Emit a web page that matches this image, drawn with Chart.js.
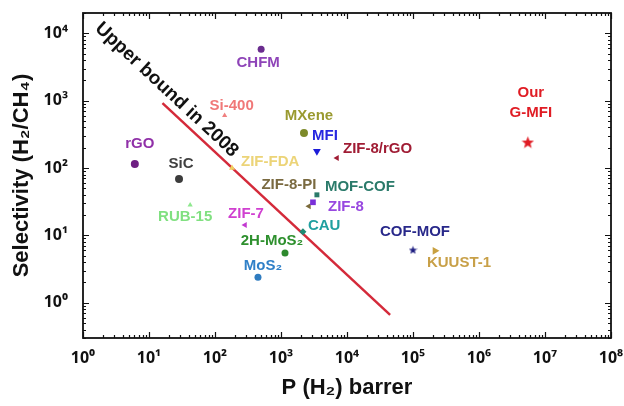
<!DOCTYPE html>
<html><head><meta charset="utf-8">
<script src="https://cdn.jsdelivr.net/npm/chart.js@4.4.1/dist/chart.umd.min.js"></script>
<style>html,body{margin:0;padding:0;background:#fff;}#wrap{width:624px;height:406px;}</style>
</head><body><div id="wrap"><canvas id="c" width="624" height="406"></canvas></div>
<script>
// ---- data ----
const materials = ['CHFM','Si-400','MXene','MFI','ZIF-8/rGO','rGO','SiC','ZIF-FDA','ZIF-8-PI','MOF-COF','ZIF-8','CAU','RUB-15','ZIF-7','2H-MoS₂','MoS₂','COF-MOF','KUUST-1',['Our','G-MFI']];
const permeability = [500, 140, 2230, 3500, 7050, 6.1, 28.5, 181, 2650, 3500, 3050, 2150, 42, 285, 1150, 448, 100000, 215000, 5500000];
const selectivity  = [5800, 600, 330, 178, 141, 115, 69, 100, 27, 40, 31, 11.3, 28.3, 14.3, 5.5, 2.4, 6.1, 5.9, 243];
const boundPermeability = [16, 45000];
const boundSelectivity  = [920, 0.66];
const boundLabel = 'Upper bound in 2008';
const xTickValues = [1, 10, 100, 1000, 10000, 100000, 1000000, 10000000, 100000000];
const xTickLabels = ['10⁰','10¹','10²','10³','10⁴','10⁵','10⁶','10⁷','10⁸'];
const yTickValues = [1, 10, 100, 1000, 10000];
const yTickLabels = ['10⁰','10¹','10²','10³','10⁴'];
const xTitle = 'P (H₂) barrer';
const yTitle = 'Selectivity (H₂/CH₄)';

// ---- styles ----
const markerColors = ['#6a2c8e','#f08080','#7d8a2a','#1c1cd8','#a01c34','#6e1e82','#3c3c3c','#f0d060','#7a6a3a','#2a7a6a','#7a30d8','#1f8a74','#8ee88e','#c23ad0','#2e8a2e','#2f7cc0','#1c1c80','#c8a040','#e01c24'];
const textColors   = ['#8e44b8','#f07878','#9a9a30','#2828e0','#a01c34','#9030a8','#404040','#ecd478','#7a6a40','#2a7a6a','#9848e0','#20a0a0','#80e080','#d040d0','#2e902e','#3080c8','#28288a','#c8a048','#e01c24'];
const markerShapes = ['circle','triangle','circle','triangle','triangle','circle','circle','triangle','triangle','rect','rect','rectRot','triangle','triangle','circle','circle','star5','triangle','star5'];
const markerRotation = [0,0,0,180,270,0,0,0,270,0,0,0,0,270,0,0,0,90,0];
const markerRadius = [3.5,3,4,4.5,3.5,4,4,3.5,3.5,3.5,4,3.5,3,3.5,3.5,3.5,4.5,4.5,6.5];
const labelDx = [-3,7,5,8,6,5,2,9,-20,8,15,5,-5,1,-13,5,2,-8,3];
const labelDy = [14,-10,-17,-15,-9,-20,-15,-6,-21,-8,5,-6,12,-11,-12,-11,-18,12,-49];
const labelAlign = ['center','center','center','center','left','center','center','left','center','left','left','left','center','center','center','center','center','left','center'];
const boundLabelAnchor = {x: 18.5, y: 1450};

function starImage(color, size){
  const c = document.createElement('canvas'); c.width = size; c.height = size;
  const g = c.getContext('2d'); const cx = size/2, cy = size/2 + size*0.05, R = size/2, r = R*0.42;
  g.beginPath();
  for (let k = 0; k < 10; k++){
    const ang = -Math.PI/2 + k*Math.PI/5; const rr = k%2 ? r : R;
    const px = cx + rr*Math.cos(ang), py = cy + rr*Math.sin(ang);
    k ? g.lineTo(px,py) : g.moveTo(px,py);
  }
  g.closePath(); g.fillStyle = color; g.fill();
  return c;
}
const pointStyles = markerShapes.map((s,i)=> s==='star5' ? starImage(markerColors[i], Math.round(markerRadius[i]*2)) : s);

const FONT = '"Liberation Sans", Arial, sans-serif';
const TICKFONT = '"Noto Sans", "DejaVu Sans", sans-serif';
function isPow10(v){ const l = Math.log10(v); return Math.abs(l - Math.round(l)) < 1e-9; }
function logTicks(min, max){
  const out = [];
  for (let e = Math.floor(Math.log10(min)); e <= Math.ceil(Math.log10(max)); e++){
    for (let m = 1; m <= 9; m++){ const v = m*Math.pow(10,e); if (v >= min*0.999 && v <= max*1.001) out.push({value:v}); }
  }
  return out;
}
function labelFor(values, labels, v){ const i = values.findIndex(t => Math.abs(t - v)/t < 1e-6); return i >= 0 ? labels[i] : ''; }

const framePlugin = {
  id: 'frame',
  afterDraw(chart){
    const {ctx, chartArea:a, scales:{x, y}} = chart;
    ctx.save();
    ctx.strokeStyle = '#111'; ctx.lineWidth = 1.8;
    ctx.strokeRect(a.left, a.top, a.right - a.left, a.bottom - a.top);
    ctx.lineWidth = 1.2;
    ctx.beginPath();
    x.ticks.forEach(t => {
      const L = isPow10(t.value) ? 6 : 3; const px = Math.round(x.getPixelForValue(t.value)) + 0.5;
      ctx.moveTo(px, a.bottom); ctx.lineTo(px, a.bottom - L);
      ctx.moveTo(px, a.top); ctx.lineTo(px, a.top + L);
    });
    y.ticks.forEach(t => {
      const L = isPow10(t.value) ? 6 : 3; const py = Math.round(y.getPixelForValue(t.value)) + 0.5;
      ctx.moveTo(a.left, py); ctx.lineTo(a.left + L, py);
      ctx.moveTo(a.right, py); ctx.lineTo(a.right - L, py);
    });
    ctx.stroke();
    ctx.restore();
  }
};

const labelPlugin = {
  id: 'pointLabels',
  afterDatasetsDraw(chart){
    const {ctx, scales:{x, y}} = chart;
    ctx.save();
    ctx.font = 'bold 15px ' + FONT;
    ctx.textBaseline = 'middle';
    materials.forEach((name, i) => {
      const px = x.getPixelForValue(permeability[i]), py = y.getPixelForValue(selectivity[i]);
      ctx.fillStyle = textColors[i]; ctx.textAlign = labelAlign[i];
      const lines = Array.isArray(name) ? name : [name];
      lines.forEach((ln, k) => ctx.fillText(ln, px + labelDx[i], py + labelDy[i] + k*20));
    });
    const x1 = x.getPixelForValue(boundPermeability[0]), y1 = y.getPixelForValue(boundSelectivity[0]);
    const x2 = x.getPixelForValue(boundPermeability[1]), y2 = y.getPixelForValue(boundSelectivity[1]);
    const ang = Math.atan2(y2 - y1, x2 - x1);
    const cx = x.getPixelForValue(boundLabelAnchor.x), cy = y.getPixelForValue(boundLabelAnchor.y);
    ctx.translate(cx, cy); ctx.rotate(ang);
    ctx.font = 'bold 19px ' + FONT; ctx.fillStyle = '#111'; ctx.textAlign = 'center';
    ctx.fillText(boundLabel, 0, 0);
    ctx.restore();
  }
};

new Chart(document.getElementById('c'), {
  type: 'scatter',
  data: {
    datasets: [
      {
        label: 'materials', order: 1,
        data: materials.map((m, i) => ({x: permeability[i], y: selectivity[i]})),
        pointStyle: pointStyles, rotation: markerRotation, pointRadius: markerRadius,
        backgroundColor: markerColors, borderColor: markerColors, borderWidth: 0
      },
      {
        label: boundLabel, order: 2, showLine: true,
        data: boundPermeability.map((v, i) => ({x: v, y: boundSelectivity[i]})),
        borderColor: '#d42a3a', borderWidth: 2.5, pointRadius: 0
      }
    ]
  },
  options: {
    responsive: false, animation: false, devicePixelRatio: 1,
    layout: {padding: {top: 13, right: 13, left: 0, bottom: 0}},
    plugins: {legend: {display: false}, tooltip: {enabled: false}},
    scales: {
      x: {
        type: 'logarithmic', min: 1, max: 1e8,
        grid: {display: false}, border: {display: false},
        afterBuildTicks: s => { s.ticks = logTicks(1, 1e8); },
        afterFit: s => { s.height = 68; s.paddingLeft = 0; s.paddingRight = 0; },
        ticks: {autoSkip: false, maxRotation: 0, padding: 3, color: '#111',
          font: {family: TICKFONT, size: 16, weight: 'bold'},
          callback: v => labelFor(xTickValues, xTickLabels, v)},
        title: {display: true, text: xTitle, color: '#111', padding: {top: 2, bottom: 5},
          font: {family: FONT, size: 22, weight: 'bold'}}
      },
      y: {
        type: 'logarithmic', min: 0.3, max: 20000,
        grid: {display: false}, border: {display: false},
        afterBuildTicks: s => { s.ticks = logTicks(0.3, 20000); },
        afterFit: s => { s.width = 83; s.paddingTop = 0; s.paddingBottom = 0; },
        ticks: {autoSkip: false, padding: 7, color: '#111',
          font: {family: TICKFONT, size: 16, weight: 'bold'},
          callback: v => labelFor(yTickValues, yTickLabels, v)},
        title: {display: true, text: yTitle, color: '#111', padding: {top: 9, bottom: 4},
          font: {family: FONT, size: 22, weight: 'bold'}}
      }
    }
  },
  plugins: [framePlugin, labelPlugin]
});
</script></body></html>
